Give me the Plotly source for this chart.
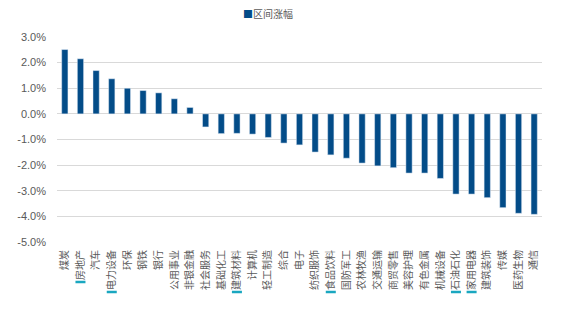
import plotly.graph_objects as go

categories = ["煤炭", "房地产", "汽车", "电力设备", "环保", "钢铁", "银行", "公用事业",
              "非银金融", "社会服务", "基础化工", "建筑材料", "计算机", "轻工制造", "综合",
              "电子", "纺织服饰", "食品饮料", "国防军工", "农林牧渔", "交通运输", "商贸零售",
              "美容护理", "有色金属", "机械设备", "石油石化", "家用电器", "建筑装饰", "传媒",
              "医药生物", "通信"]
values = [2.51, 2.15, 1.69, 1.37, 1.00, 0.91, 0.82, 0.59,
          0.25, -0.51, -0.77, -0.76, -0.79, -0.92, -1.14,
          -1.21, -1.49, -1.60, -1.73, -1.92, -2.03, -2.10,
          -2.31, -2.31, -2.52, -3.13, -3.13, -3.27, -3.66,
          -3.88, -3.92]
highlighted = ["房地产", "电力设备", "建筑材料", "食品饮料", "石油石化", "家用电器"]
series_name = "区间涨幅"
y_ticks = [3, 2, 1, 0, -1, -2, -3, -4, -5]
y_ticktext = [f"{v:.1f}%" for v in y_ticks]

BAR = "#034C88"
TEAL = "#1AA7C0"
GRAY = "#595959"

W, H = 565, 324
ML, MR, MT, MB = 57, 23, 37, 82
plot_h = H - MT - MB

fig = go.Figure(go.Bar(x=categories, y=values, marker_color=BAR, width=0.4,
                       name=series_name, showlegend=False))

# teal marks under highlighted labels (placed from label length)
shapes = []
char_px = 10
label_top_px = 8
for c in highlighted:
    bottom_px = label_top_px + char_px * len(c) + 2
    yp = -bottom_px / plot_h
    shapes.append(dict(type="line", xref="x", yref="paper",
                       x0=categories.index(c) - 0.32, x1=categories.index(c) + 0.32,
                       y0=yp, y1=yp, line=dict(color=TEAL, width=2.5)))

fig.update_layout(
    width=W, height=H,
    margin=dict(l=ML, r=MR, t=MT, b=MB),
    paper_bgcolor="white", plot_bgcolor="white",
    bargap=0.6,
    shapes=shapes,
    annotations=[dict(
        xref="paper", yref="paper", x=(241 - ML) / (W - ML - MR), y=1 + 23 / plot_h,
        xanchor="left", yanchor="middle", showarrow=False,
        text=f"<span style='color:{BAR}'>■</span>{series_name}",
        font=dict(family="Noto Sans CJK SC", size=10, color=GRAY))],
    xaxis=dict(showgrid=False, showline=False, zeroline=False, ticks="",
               tickangle=-90, ticklabelstandoff=5,
               tickfont=dict(family="Noto Sans CJK SC", size=10, color=GRAY)),
    yaxis=dict(range=[-5, 3], tickvals=y_ticks, ticktext=y_ticktext,
               showgrid=True, gridcolor="#D9D9D9", gridwidth=1,
               zeroline=False, showline=False, ticks="", ticklabelstandoff=10,
               tickfont=dict(family="Liberation Sans", size=11, color=GRAY)),
)

fig.write_html("out.html")
